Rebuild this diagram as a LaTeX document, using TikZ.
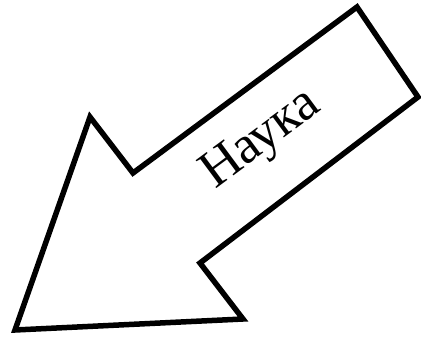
\documentclass[tikz,border=0pt]{standalone}
\usepackage{fontspec}
\setmainfont{Liberation Serif}
\begin{document}
\begin{tikzpicture}[x=1pt, y=-1pt, every node/.style={font=\fontsize{53}{60}\selectfont}]
\useasboundingbox (0,0) rectangle (421,338);
\draw[line width=5.5pt, line join=miter] (15,330) -- (90,117) -- (133,173) -- (357,7) -- (418,97) -- (200,263) -- (243,319) -- cycle;
\node[rotate=36.5] (label) at (262,140) {Наука};
\end{tikzpicture}
\end{document}
